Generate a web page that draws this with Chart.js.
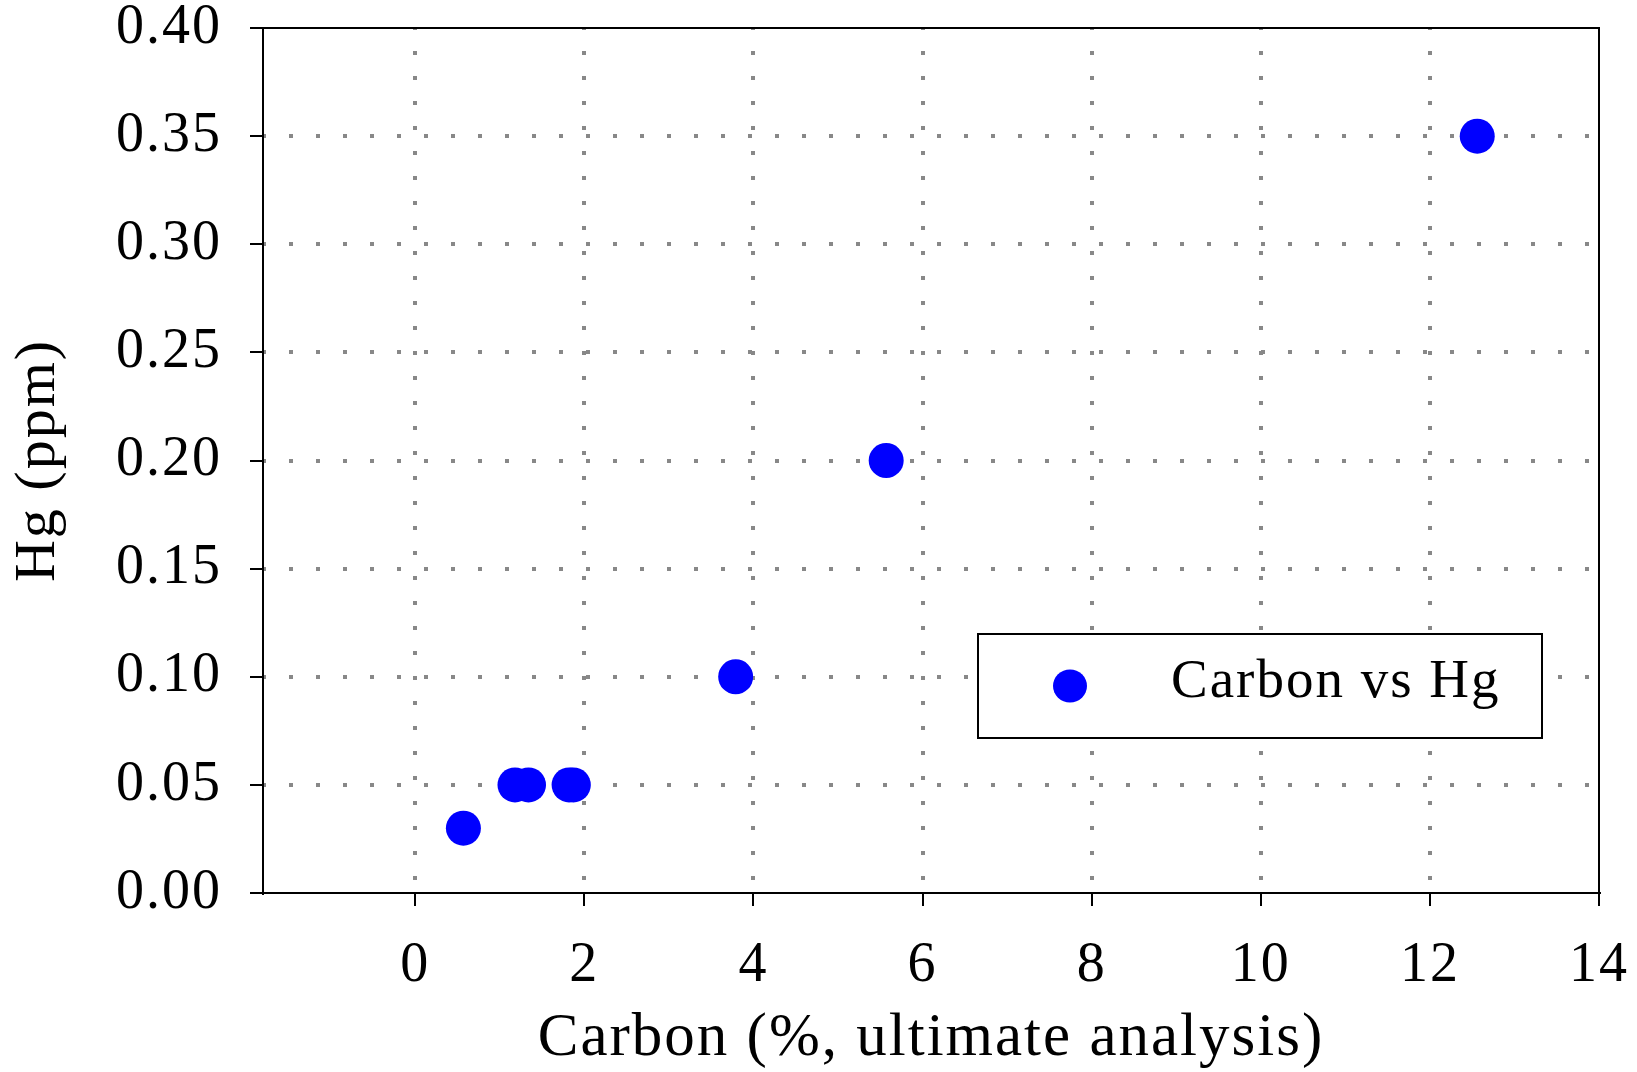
<!DOCTYPE html>
<html>
<head>
<meta charset="utf-8">
<title>Carbon vs Hg</title>
<script src="https://cdn.jsdelivr.net/npm/chart.js@4.4.1/dist/chart.umd.min.js"></script>
<style>
  html, body { margin: 0; padding: 0; background: #fff; }
  canvas { display: block; }
</style>
</head>
<body>
<canvas id="hgChart" width="1637" height="1072"></canvas>
<script>
// carbon (% ultimate analysis) vs mercury (ppm)
const carbonPct = [0.57, 1.18, 1.34, 1.82, 1.87, 3.79, 5.57, 12.56];
const hgPpm     = [0.03, 0.05, 0.05, 0.05, 0.05, 0.10, 0.20, 0.35];

const xTicks = [0, 2, 4, 6, 8, 10, 12, 14];
const yTicks = [0, 0.05, 0.10, 0.15, 0.20, 0.25, 0.30, 0.35, 0.40];
const xMin = -1.8, xMax = 14;
const yMin = 0, yMax = 0.40;

const seriesLabel = 'Carbon vs Hg';
const xTitle = 'Carbon (%, ultimate analysis)';
const yTitle = 'Hg (ppm)';

const FONT = '"Liberation Serif", "Times New Roman", serif';
const GRID = '#888888';
const SPACING = '2px';

// the original text is set a little loose
const loose = {
    id: 'loose',
    beforeUpdate(chart) { chart.ctx.letterSpacing = SPACING; },
    beforeDraw(chart) { chart.ctx.letterSpacing = SPACING; }
};

// top + right frame lines
const frame = {
    id: 'frame',
    afterDraw(chart) {
        const { ctx, chartArea: a } = chart;
        ctx.save();
        ctx.strokeStyle = '#000';
        ctx.lineWidth = 2;
        ctx.beginPath();
        ctx.moveTo(a.left, a.top);
        ctx.lineTo(a.right, a.top);
        ctx.lineTo(a.right, a.bottom);
        ctx.stroke();
        ctx.restore();
    }
};

// boxed legend sitting inside the plot
const boxLegend = {
    id: 'boxLegend',
    afterDraw(chart) {
        const { ctx } = chart;
        const ds = chart.data.datasets[0];
        const box = { x: 978, y: 634, w: 564, h: 104 };
        ctx.save();
        ctx.fillStyle = '#fff';
        ctx.fillRect(box.x, box.y, box.w, box.h);
        ctx.strokeStyle = '#000';
        ctx.lineWidth = 2;
        ctx.strokeRect(box.x, box.y, box.w, box.h);
        ctx.fillStyle = ds.backgroundColor;
        ctx.beginPath();
        ctx.ellipse(box.x + 92, box.y + 52, 17, 16.5, 0, 0, Math.PI * 2);
        ctx.fill();
        ctx.fillStyle = '#000';
        ctx.font = '55px ' + FONT;
        ctx.textBaseline = 'alphabetic';
        ctx.fillText(ds.label, box.x + 193, box.y + 63);
        ctx.restore();
    }
};

const hideEdge = (lo, hi) => c =>
    (c.tick && (Math.abs(c.tick.value - lo) < 1e-9 || Math.abs(c.tick.value - hi) < 1e-9)) ? 'rgba(0,0,0,0)' : GRID;

new Chart(document.getElementById('hgChart'), {
    type: 'scatter',
    data: {
        datasets: [{
            label: seriesLabel,
            data: carbonPct.map((x, i) => ({ x: x, y: hgPpm[i] })),
            backgroundColor: '#0000ff',
            borderWidth: 0,
            pointRadius: 17.5,
            pointHoverRadius: 17.5
        }]
    },
    options: {
        responsive: false,
        animation: false,
        layout: { padding: { top: 28, right: 38, left: 0, bottom: 0 } },
        plugins: {
            legend: { display: false },
            tooltip: { enabled: false }
        },
        scales: {
            x: {
                type: 'linear',
                min: xMin,
                max: xMax,
                afterBuildTicks: axis => { axis.ticks = xTicks.map(v => ({ value: v })); },
                afterFit: axis => {
                    axis.height = 179;
                    axis.paddingLeft = 0;
                    axis.paddingRight = 0;
                },
                ticks: {
                    color: '#000',
                    padding: 27,
                    maxRotation: 0,
                    font: { family: FONT, size: 56 },
                    callback: v => String(v)
                },
                grid: {
                    color: hideEdge(xMin, xMax),
                    lineWidth: 4,
                    tickColor: '#000',
                    tickWidth: 2,
                    tickLength: 13
                },
                border: { display: true, color: '#000', width: 2, dash: [4, 21], dashOffset: 2 },
                title: {
                    display: true,
                    text: xTitle,
                    color: '#000',
                    font: { family: FONT, size: 61 },
                    padding: { top: 0, bottom: -4 }
                }
            },
            y: {
                type: 'linear',
                min: yMin,
                max: yMax,
                afterBuildTicks: axis => { axis.ticks = yTicks.map(v => ({ value: v })); },
                afterFit: axis => {
                    axis.width = 263;
                    axis.paddingTop = 0;
                    axis.paddingBottom = 0;
                },
                ticks: {
                    color: '#000',
                    padding: 28,
                    font: { family: FONT, size: 56 },
                    callback: v => Number(v).toFixed(2)
                },
                grid: {
                    color: hideEdge(yMin, yMax),
                    lineWidth: 4,
                    tickColor: '#000',
                    tickWidth: 2,
                    tickLength: 13
                },
                border: { display: true, color: '#000', width: 2, dash: [4, 23], dashOffset: 2 },
                title: {
                    display: true,
                    text: yTitle,
                    color: '#000',
                    font: { family: FONT, size: 58 },
                    padding: { top: 4, bottom: 0 }
                }
            }
        }
    },
    plugins: [loose, frame, boxLegend]
});
</script>
</body>
</html>
